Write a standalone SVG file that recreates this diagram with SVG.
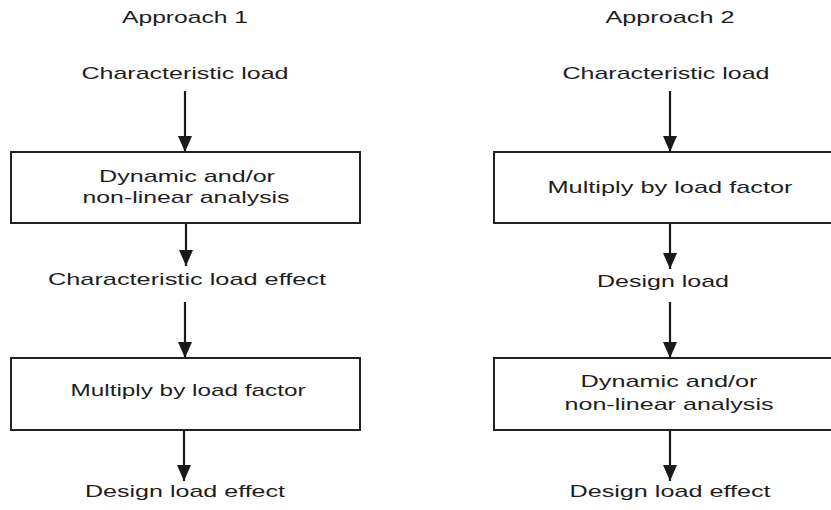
<svg xmlns="http://www.w3.org/2000/svg" width="831" height="510" viewBox="0 0 831 510">
<defs>
<marker id="ah" viewBox="0 0 16 14" refX="16" refY="7" markerWidth="16" markerHeight="14" markerUnits="userSpaceOnUse" orient="auto">
<path d="M0,0 L16,7 L0,14 Z" fill="#1a1a1a"/>
</marker>
<style>
text{font-family:"Liberation Sans",Arial,sans-serif;font-size:17px;fill:#1e1e1e;text-anchor:middle}
.box{fill:#fff;stroke:#222;stroke-width:2}
.conn line{stroke:#1a1a1a;stroke-width:2.2;marker-end:url(#ah)}
</style>
</defs>
<rect width="831" height="510" fill="#fff"/>
<g id="left-title"><text x="185" y="23" textLength="126" lengthAdjust="spacingAndGlyphs">Approach 1</text></g>
<g id="left-char-load"><text x="185" y="79" textLength="207" lengthAdjust="spacingAndGlyphs">Characteristic load</text></g>
<g id="left-analysis"><rect class="box" x="11" y="152" width="349" height="71"/>
<text x="187" y="182" textLength="176" lengthAdjust="spacingAndGlyphs">Dynamic and/or</text>
<text x="186" y="203" textLength="207" lengthAdjust="spacingAndGlyphs">non-linear analysis</text></g>
<g id="left-char-effect"><text x="187" y="285" textLength="278" lengthAdjust="spacingAndGlyphs">Characteristic load effect</text></g>
<g id="left-multiply"><rect class="box" x="11" y="358" width="349" height="72"/>
<text x="188" y="396" textLength="235" lengthAdjust="spacingAndGlyphs">Multiply by load factor</text></g>
<g id="left-design-effect"><text x="185" y="497" textLength="200" lengthAdjust="spacingAndGlyphs">Design load effect</text></g>

<g id="right-title"><text x="670" y="23" textLength="129" lengthAdjust="spacingAndGlyphs">Approach 2</text></g>
<g id="right-char-load"><text x="666" y="79" textLength="207" lengthAdjust="spacingAndGlyphs">Characteristic load</text></g>
<g id="right-multiply"><rect class="box" x="494" y="152" width="345" height="71"/>
<text x="670" y="193" textLength="245" lengthAdjust="spacingAndGlyphs">Multiply by load factor</text></g>
<g id="right-design-load"><text x="663" y="287" textLength="132" lengthAdjust="spacingAndGlyphs">Design load</text></g>
<g id="right-analysis"><rect class="box" x="494" y="358" width="345" height="72"/>
<text x="669" y="387" textLength="177" lengthAdjust="spacingAndGlyphs">Dynamic and/or</text>
<text x="669" y="410" textLength="209" lengthAdjust="spacingAndGlyphs">non-linear analysis</text></g>
<g id="right-design-effect"><text x="670" y="497" textLength="201" lengthAdjust="spacingAndGlyphs">Design load effect</text></g>

<g class="conn" id="connectors">
<line x1="185" y1="91" x2="185" y2="152"/>
<line x1="186" y1="223" x2="186" y2="266"/>
<line x1="185" y1="302" x2="185" y2="358"/>
<line x1="184" y1="430" x2="184" y2="481"/>
<line x1="670" y1="91" x2="670" y2="152"/>
<line x1="670" y1="223" x2="670" y2="269"/>
<line x1="670" y1="302" x2="670" y2="358"/>
<line x1="670" y1="430" x2="670" y2="481"/>
</g>
</svg>
